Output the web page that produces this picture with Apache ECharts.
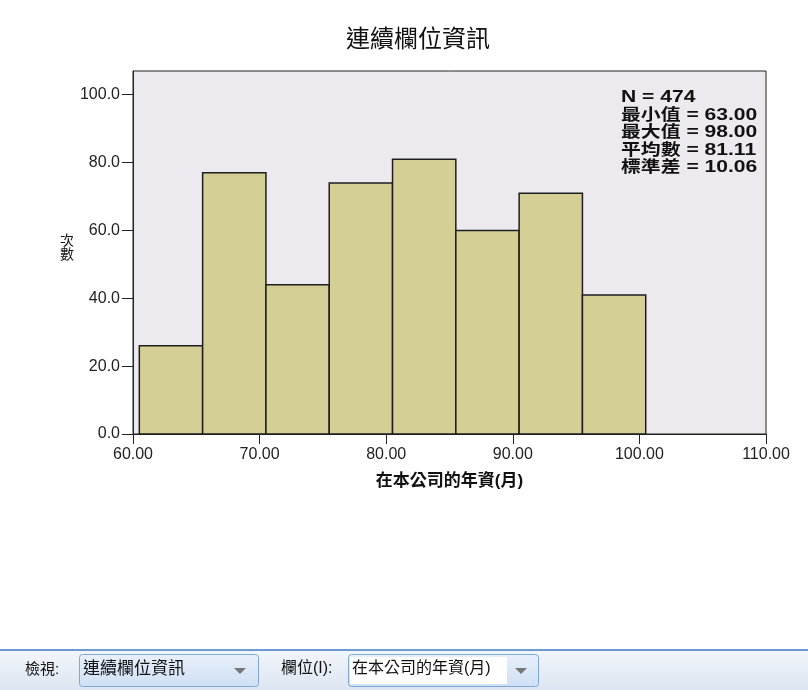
<!DOCTYPE html>
<html><head><meta charset="utf-8">
<script src="https://cdn.jsdelivr.net/npm/echarts@6/dist/echarts.min.js"></script>
<style>html,body{margin:0;padding:0;background:#fff}#c{width:808px;height:690px}</style>
</head><body><div id="c"></div>
<script>
const binStart = [60.5, 65.5, 70.5, 75.5, 80.5, 85.5, 90.5, 95.5];
const binEnd   = [65.5, 70.5, 75.5, 80.5, 85.5, 90.5, 95.5, 100.5];
const counts   = [26, 77, 44, 74, 81, 60, 71, 41];
const yTicks   = [0, 20, 40, 60, 80, 100];
const statsLabels = ['N', '最小值', '最大值', '平均數', '標準差'];
const statsValues = ['474', '63.00', '98.00', '81.11', '10.06'];
const titleText = '連續欄位資訊';
const xName = '在本公司的年資(月)';
const yName = '次數';

const cjk = '"Liberation Sans", Arial, "Noto Sans CJK TC", sans-serif';
const chart = echarts.init(document.getElementById('c'), null, {renderer: 'canvas'});
const data = binStart.map((s, i) => [s, binEnd[i], counts[i]]);

const statsText = statsLabels.map((l, i) =>
  (l === 'N' ? '{lat|N}' : '{cj|' + l + '}') + '{lat| = ' + statsValues[i] + '}').join('\n');

chart.setOption({
  animation: false,
  backgroundColor: '#ffffff',
  title: {
    text: titleText, left: 413, top: 23, textAlign: 'center',
    textStyle: {fontFamily: cjk, fontSize: 24, fontWeight: 'normal', color: '#111'}
  },
  grid: {
    left: 133, top: 71, right: 42, bottom: 256,
    show: true, backgroundColor: '#ECEAEF', borderColor: '#222', borderWidth: 1
  },
  xAxis: {
    type: 'value', min: 60, max: 110, interval: 10,
    axisLine: {show: true, lineStyle: {color: '#222', width: 1}},
    axisTick: {show: true, length: 10, lineStyle: {color: '#222'}},
    splitLine: {show: false},
    axisLabel: {formatter: v => v.toFixed(2), color: '#222', fontSize: 16, fontFamily: cjk, margin: 13},
    name: xName, nameLocation: 'middle', nameGap: 47,
    nameTextStyle: {fontFamily: cjk, fontSize: 17, fontWeight: 'bold', color: '#111', verticalAlign: 'middle'}
  },
  yAxis: {
    type: 'value', min: 0, max: 107, interval: 20,
    axisLine: {show: true, lineStyle: {color: '#222', width: 1}},
    axisTick: {show: true, length: 11, lineStyle: {color: '#222'}, customValues: yTicks},
    splitLine: {show: false},
    axisLabel: {formatter: v => v.toFixed(1), color: '#222', fontSize: 16, fontFamily: cjk, margin: 13, customValues: yTicks}
  },
  graphic: [
    {type: 'text', left: 60, top: 234, style: {text: yName.split('').join('\n'), font: '14px ' + cjk, fill: '#111', lineHeight: 14}},
    {type: 'text', x: 621, y: 89, scaleX: 1.24, scaleY: 1, style: {
      text: statsText, lineHeight: 17.5,
      rich: {
        lat: {fontFamily: cjk, fontSize: 17, fontWeight: 'bold', fill: '#111', lineHeight: 17.5},
        cj: {fontFamily: cjk, fontSize: 16, fontWeight: 'bold', fill: '#111', lineHeight: 17.5}
      }}},
    // toolbar
    {type: 'rect', shape: {x: 0, y: 650, width: 808, height: 40},
      style: {fill: new echarts.graphic.LinearGradient(0, 0, 0, 1, [{offset: 0, color: '#F2F6FB'}, {offset: 1, color: '#DCE5F1'}])}},
    {type: 'rect', shape: {x: 0, y: 649, width: 808, height: 2}, style: {fill: '#6B9AD6'}},
    {type: 'text', left: 25, top: 662, style: {text: '檢視:', font: '15px ' + cjk, fill: '#111'}},
    {type: 'rect', shape: {x: 79.5, y: 654.5, width: 179, height: 32, r: 3},
      style: {fill: new echarts.graphic.LinearGradient(0, 0, 0, 1, [{offset: 0, color: '#E8F0FB'}, {offset: 1, color: '#CFDFF4'}]), stroke: '#7FA7DA', lineWidth: 1}},
    {type: 'text', left: 83, top: 661, style: {text: '連續欄位資訊', font: '17px ' + cjk, fill: '#111'}},
    {type: 'polygon', shape: {points: [[234, 668], [246, 668], [240, 674]]}, style: {fill: '#777'}},
    {type: 'text', left: 281, top: 661, style: {text: '欄位(I):', font: '16px ' + cjk, fill: '#111'}},
    {type: 'rect', shape: {x: 348.5, y: 654.5, width: 190, height: 32, r: 3},
      style: {fill: new echarts.graphic.LinearGradient(0, 0, 0, 1, [{offset: 0, color: '#E8F0FB'}, {offset: 1, color: '#CFDFF4'}]), stroke: '#7FA7DA', lineWidth: 1}},
    {type: 'rect', shape: {x: 350, y: 657, width: 157, height: 27}, style: {fill: '#ffffff'}},
    {type: 'text', left: 352, top: 661, style: {text: '在本公司的年資(月)', font: '16px ' + cjk, fill: '#111'}},
    {type: 'polygon', shape: {points: [[515, 668], [527, 668], [521, 674]]}, style: {fill: '#777'}}
  ],
  series: [{
    type: 'custom',
    data: data,
    encode: {x: [0, 1], y: 2},
    renderItem: function (params, api) {
      const p0 = api.coord([api.value(0), api.value(2)]);
      const p1 = api.coord([api.value(1), 0]);
      return {
        type: 'rect',
        shape: {x: p0[0], y: p0[1], width: p1[0] - p0[0], height: p1[1] - p0[1]},
        style: {fill: '#D4CF95', stroke: '#1E1E1E', lineWidth: 1.5}
      };
    }
  }]
});
</script></body></html>
